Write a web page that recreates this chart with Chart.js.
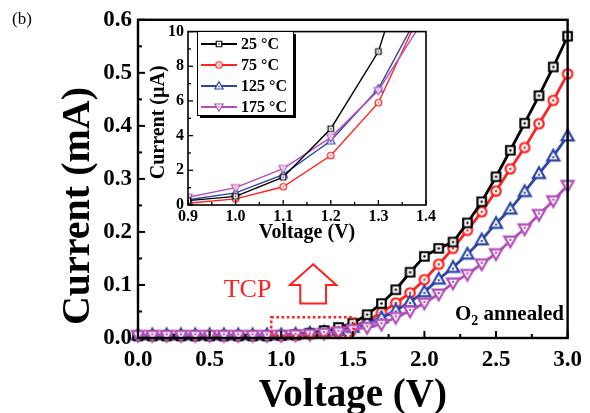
<!DOCTYPE html>
<html>
<head>
<meta charset="utf-8">
<script src="https://cdn.jsdelivr.net/npm/chart.js@4.4.1/dist/chart.umd.min.js"></script>
<style>
  html, body { margin: 0; padding: 0; background: #fff; }
  #wrap  { position: relative; width: 590px; height: 413px; }
  #main  { position: absolute; left: 0; top: 0; }
  #inset { position: absolute; left: 120px; top: 18px; }
</style>
</head>
<body>
<div id="wrap">
  <canvas id="main" width="590" height="413" style="width:590px;height:413px"></canvas>
  <canvas id="inset" width="320" height="230" style="width:320px;height:230px"></canvas>
</div>
<script>
// ── Data ──────────────────────────────────────────────────────────────────────
const seriesLabels = ['25 °C', '75 °C', '125 °C', '175 °C'];
const seriesColors = ['#000000', '#ff2222', '#2c46a8', '#b44fba'];
const seriesShapes = ['square', 'circle', 'up', 'down'];

const voltage = [0.0, 0.1, 0.2, 0.3, 0.4, 0.5, 0.6, 0.7, 0.8, 0.9, 1.0,
                 1.1, 1.2, 1.3, 1.4, 1.5, 1.6, 1.7, 1.8, 1.9, 2.0,
                 2.1, 2.2, 2.3, 2.4, 2.5, 2.6, 2.7, 2.8, 2.9, 3.0];
// main panel, mA
const cur25  = [0.004, 0.004, 0.004, 0.004, 0.004, 0.004, 0.004, 0.004, 0.004, 0.004, 0.005,
                0.006, 0.009, 0.014, 0.020, 0.028, 0.044, 0.065, 0.091, 0.124, 0.154,
                0.169, 0.181, 0.217, 0.257, 0.304, 0.354, 0.405, 0.457, 0.511, 0.569];
const cur75  = [0.004, 0.004, 0.004, 0.004, 0.004, 0.004, 0.004, 0.004, 0.004, 0.004, 0.004,
                0.005, 0.007, 0.010, 0.014, 0.021, 0.032, 0.048, 0.066, 0.085, 0.110,
                0.139, 0.169, 0.203, 0.238, 0.277, 0.319, 0.359, 0.404, 0.448, 0.498];
const cur125 = [0.006, 0.006, 0.006, 0.006, 0.006, 0.006, 0.006, 0.006, 0.006, 0.006, 0.006,
                0.007, 0.009, 0.011, 0.014, 0.020, 0.030, 0.038, 0.052, 0.068, 0.087,
                0.111, 0.133, 0.158, 0.185, 0.216, 0.243, 0.276, 0.310, 0.343, 0.381];
const cur175 = [0.005, 0.005, 0.005, 0.005, 0.005, 0.005, 0.005, 0.005, 0.005, 0.005, 0.005,
                0.006, 0.007, 0.009, 0.012, 0.016, 0.020, 0.026, 0.039, 0.051, 0.066,
                0.083, 0.104, 0.120, 0.140, 0.159, 0.183, 0.206, 0.233, 0.259, 0.288];

// inset, µA
const insetVoltage = [0.9, 1.0, 1.1, 1.2, 1.3, 1.4];
const inset25  = [0.25, 0.50, 1.60, 4.40, 8.85, 17.5];
const inset75  = [0.10, 0.35, 1.05, 2.85, 5.90, 11.8];
const inset125 = [0.30, 0.70, 1.75, 3.70, 6.70, 11.8];
const inset175 = [0.45, 1.00, 2.10, 3.90, 6.60, 10.9];

const mainSeries  = [cur25, cur75, cur125, cur175];
const insetSeries = [inset25, inset75, inset125, inset175];

// ── Helpers ───────────────────────────────────────────────────────────────────
const SERIF = '"Liberation Serif", "DejaVu Serif", serif';
Chart.defaults.font.family = SERIF;
Chart.defaults.color = '#000';

// open symbol with a centre dot, like the Origin markers
function marker(shape, color, size, lw) {
  const s = Math.ceil(size + lw * 2 + 4);
  const c = document.createElement('canvas');
  c.width = c.height = s;
  const g = c.getContext('2d');
  g.translate(s / 2, s / 2);
  g.fillStyle = '#fff'; g.strokeStyle = color; g.lineWidth = lw;
  const r = size / 2;
  g.beginPath();
  if (shape === 'square') g.rect(-r, -r, size, size);
  else if (shape === 'circle') g.arc(0, 0, r, 0, Math.PI * 2);
  else if (shape === 'up') { g.moveTo(0, -r * 1.15); g.lineTo(r * 1.1, r * 0.8); g.lineTo(-r * 1.1, r * 0.8); g.closePath(); }
  else { g.moveTo(0, r * 1.15); g.lineTo(r * 1.1, -r * 0.8); g.lineTo(-r * 1.1, -r * 0.8); g.closePath(); }
  g.fill(); g.stroke();
  const dy = shape === 'up' ? r * 0.2 : shape === 'down' ? -r * 0.2 : 0;
  g.fillStyle = color; g.beginPath(); g.arc(0, dy, Math.max(0.8, lw * 0.55), 0, Math.PI * 2); g.fill();
  return c;
}

function drawTicks(chart, majLen, minLen, lw) {
  const { ctx, chartArea: a, scales: { x, y } } = chart;
  ctx.save();
  ctx.strokeStyle = '#000'; ctx.lineWidth = lw;
  const seg = (x1, y1, x2, y2) => { ctx.beginPath(); ctx.moveTo(x1, y1); ctx.lineTo(x2, y2); ctx.stroke(); };
  x.ticks.forEach((t, i) => {
    const p = x.getPixelForValue(t.value);
    seg(p, a.bottom, p, a.bottom - majLen);
    if (i < x.ticks.length - 1) {
      const m = x.getPixelForValue((t.value + x.ticks[i + 1].value) / 2);
      seg(m, a.bottom, m, a.bottom - minLen);
    }
  });
  y.ticks.forEach((t, i) => {
    const p = y.getPixelForValue(t.value);
    seg(a.left, p, a.left + majLen, p);
    if (i < y.ticks.length - 1) {
      const m = y.getPixelForValue((t.value + y.ticks[i + 1].value) / 2);
      seg(a.left, m, a.left + minLen, m);
    }
  });
  ctx.restore();
}

// ── Main panel ────────────────────────────────────────────────────────────────
const mainDecor = {
  id: 'mainDecor',
  afterDatasetsDraw(chart) {
    const { ctx, scales: { x, y } } = chart;
    ctx.save();
    // dotted box around the turn-on region
    ctx.strokeStyle = '#ff2020'; ctx.lineWidth = 2.6; ctx.setLineDash([2.6, 2.6]);
    const bx1 = x.getPixelForValue(0.93), bx2 = x.getPixelForValue(1.51);
    const by1 = y.getPixelForValue(0.039), by2 = y.getPixelForValue(0.0) - 2;
    ctx.strokeRect(bx1, by1, bx2 - bx1, by2 - by1);
    ctx.setLineDash([]);
    // hollow arrow
    const P = (v, c) => [x.getPixelForValue(v), y.getPixelForValue(c)];
    const pts = [P(1.223, 0.139), P(1.385, 0.100), P(1.313, 0.100), P(1.313, 0.065),
                 P(1.133, 0.065), P(1.133, 0.100), P(1.061, 0.100)];
    ctx.beginPath();
    pts.forEach(([px, py], i) => i ? ctx.lineTo(px, py) : ctx.moveTo(px, py));
    ctx.closePath();
    ctx.fillStyle = '#fff'; ctx.fill();
    ctx.lineWidth = 2; ctx.strokeStyle = '#ff2020'; ctx.stroke();
    // TCP label
    ctx.fillStyle = '#ff2020';
    ctx.font = '26px ' + SERIF;
    ctx.textAlign = 'center'; ctx.textBaseline = 'middle';
    ctx.fillText('TCP', x.getPixelForValue(0.765), y.getPixelForValue(0.091));
    ctx.restore();
  },
  afterDraw(chart) {
    const { ctx, chartArea: a } = chart;
    drawTicks(chart, 7, 4, 2);
    ctx.save();
    ctx.strokeStyle = '#000'; ctx.lineWidth = 2.4;
    ctx.strokeRect(a.left, a.top, a.right - a.left, a.bottom - a.top);

    ctx.fillStyle = '#000';
    // axis titles
    ctx.font = 'bold 39px ' + SERIF;
    ctx.textAlign = 'center'; ctx.textBaseline = 'alphabetic';
    ctx.fillText('Voltage (V)', (a.left + a.right) / 2, 406);
    const yt = 'Current (mA)';
    ctx.font = 'bold 40px ' + SERIF;
    const w = ctx.measureText(yt).width;
    ctx.save();
    ctx.translate(89, 87 + w / 2);
    ctx.rotate(-Math.PI / 2);
    ctx.fillText(yt, 0, 0);
    ctx.restore();

    // panel letter
    ctx.font = '17px ' + SERIF;
    ctx.textAlign = 'left';
    ctx.fillText('(b)', 12, 24);

    // O2 annealed
    const big = 'bold 21px ' + SERIF, small = 'bold 14px ' + SERIF;
    ctx.font = big; const wO = ctx.measureText('O').width, wA = ctx.measureText(' annealed').width;
    ctx.font = small; const w2 = ctx.measureText('2').width;
    let tx = 564 - (wO + w2 + wA);
    const base = 320;
    ctx.font = big; ctx.fillText('O', tx, base); tx += wO;
    ctx.font = small; ctx.fillText('2', tx, base + 5); tx += w2;
    ctx.font = big; ctx.fillText(' annealed', tx, base);
    ctx.restore();
  }
};

const mainMarkers = seriesShapes.map((s, i) =>
  marker(s, seriesColors[i], s === 'square' ? 8.5 : s === 'circle' ? 9.5 : 11, 2.2));

new Chart(document.getElementById('main'), {
  type: 'line',
  data: {
    datasets: mainSeries.map((vals, i) => ({
      label: seriesLabels[i],
      data: voltage.map((v, k) => ({ x: v, y: vals[k] })),
      borderColor: seriesColors[i],
      borderWidth: 2.8,
      pointStyle: mainMarkers[i],
      pointRadius: 5,
      tension: 0,
      clip: 10,
      order: [1, 3, 2, 0][i]
    }))
  },
  options: {
    responsive: false, animation: false,
    layout: { padding: { left: 0, top: 15, right: 18, bottom: 0 } },
    plugins: { legend: { display: false }, tooltip: { enabled: false } },
    scales: {
      x: {
        type: 'linear', min: 0, max: 3,
        grid: { display: false, drawTicks: false }, border: { display: false },
        ticks: { stepSize: 0.5, padding: 8, font: { size: 23, weight: 'bold' }, callback: v => v.toFixed(1) },
        afterFit: s => { s.height = 75; }
      },
      y: {
        min: 0, max: 0.6,
        grid: { display: false, drawTicks: false }, border: { display: false },
        ticks: { stepSize: 0.1, padding: 6, font: { size: 23, weight: 'bold' }, callback: v => v.toFixed(1) },
        afterFit: s => { s.width = 138; }
      }
    }
  },
  plugins: [mainDecor]
});

// ── Inset ─────────────────────────────────────────────────────────────────────
const insetMarkers = seriesShapes.map((s, i) =>
  marker(s, seriesColors[i], s === 'square' ? 5.5 : s === 'circle' ? 6.5 : 7.5, 1.2));

const insetDecor = {
  id: 'insetDecor',
  beforeDraw(chart) {
    const { ctx, chartArea: a } = chart;
    ctx.save(); ctx.fillStyle = '#fff';
    ctx.fillRect(a.left, a.top, a.right - a.left, a.bottom - a.top);
    ctx.restore();
  },
  afterDraw(chart) {
    const { ctx, chartArea: a } = chart;
    drawTicks(chart, 5, 3, 1.3);
    ctx.save();
    ctx.strokeStyle = '#000'; ctx.lineWidth = 1.6;
    ctx.strokeRect(a.left, a.top, a.right - a.left, a.bottom - a.top);

    ctx.fillStyle = '#000';
    ctx.font = 'bold 20px ' + SERIF;
    ctx.textAlign = 'center'; ctx.textBaseline = 'alphabetic';
    ctx.fillText('Voltage (V)', (a.left + a.right) / 2, 220);
    ctx.save();
    ctx.translate(44, (a.top + a.bottom) / 2 + 4);
    ctx.rotate(-Math.PI / 2);
    ctx.fillText('Current (µA)', 0, 0);
    ctx.restore();

    // legend box with drop shadow
    const lx = 77, ly = 13, lw = 96, lh = 84;
    ctx.fillStyle = '#000'; ctx.fillRect(lx + 3, ly + 3, lw, lh);
    ctx.fillStyle = '#fff'; ctx.fillRect(lx, ly, lw, lh);
    ctx.lineWidth = 1; ctx.strokeRect(lx + 0.5, ly + 0.5, lw, lh);
    ctx.font = 'bold 16px ' + SERIF;
    ctx.textAlign = 'left'; ctx.textBaseline = 'middle';
    seriesLabels.forEach((lab, i) => {
      const ry = ly + 13 + i * 21;
      ctx.strokeStyle = seriesColors[i]; ctx.lineWidth = 2;
      ctx.beginPath(); ctx.moveTo(lx + 4, ry); ctx.lineTo(lx + 40, ry); ctx.stroke();
      const m = insetMarkers[i];
      ctx.drawImage(m, lx + 22 - m.width / 2, ry - m.height / 2);
      ctx.fillStyle = '#000';
      ctx.fillText(lab, lx + 44, ry + 1);
    });
    ctx.restore();
  }
};

new Chart(document.getElementById('inset'), {
  type: 'line',
  data: {
    datasets: insetSeries.map((vals, i) => ({
      label: seriesLabels[i],
      data: insetVoltage.map((v, k) => ({ x: v, y: vals[k] })),
      borderColor: seriesColors[i],
      borderWidth: 1.4,
      pointStyle: insetMarkers[i],
      pointRadius: 3,
      tension: 0,
      clip: 0,
      order: [0, 3, 2, 1][i]
    }))
  },
  options: {
    responsive: false, animation: false,
    layout: { padding: { left: 0, top: 10, right: 14, bottom: 0 } },
    plugins: { legend: { display: false }, tooltip: { enabled: false } },
    scales: {
      x: {
        type: 'linear', min: 0.9, max: 1.4,
        grid: { display: false, drawTicks: false }, border: { display: false },
        ticks: { stepSize: 0.1, padding: 2, autoSkip: false, font: { size: 16, weight: 'bold' }, callback: v => v.toFixed(1) },
        afterFit: s => { s.height = 43; }
      },
      y: {
        min: 0, max: 10,
        grid: { display: false, drawTicks: false }, border: { display: false },
        ticks: { stepSize: 2, padding: 4, font: { size: 16, weight: 'bold' } },
        afterFit: s => { s.width = 68; }
      }
    }
  },
  plugins: [insetDecor]
});
</script>
</body>
</html>
